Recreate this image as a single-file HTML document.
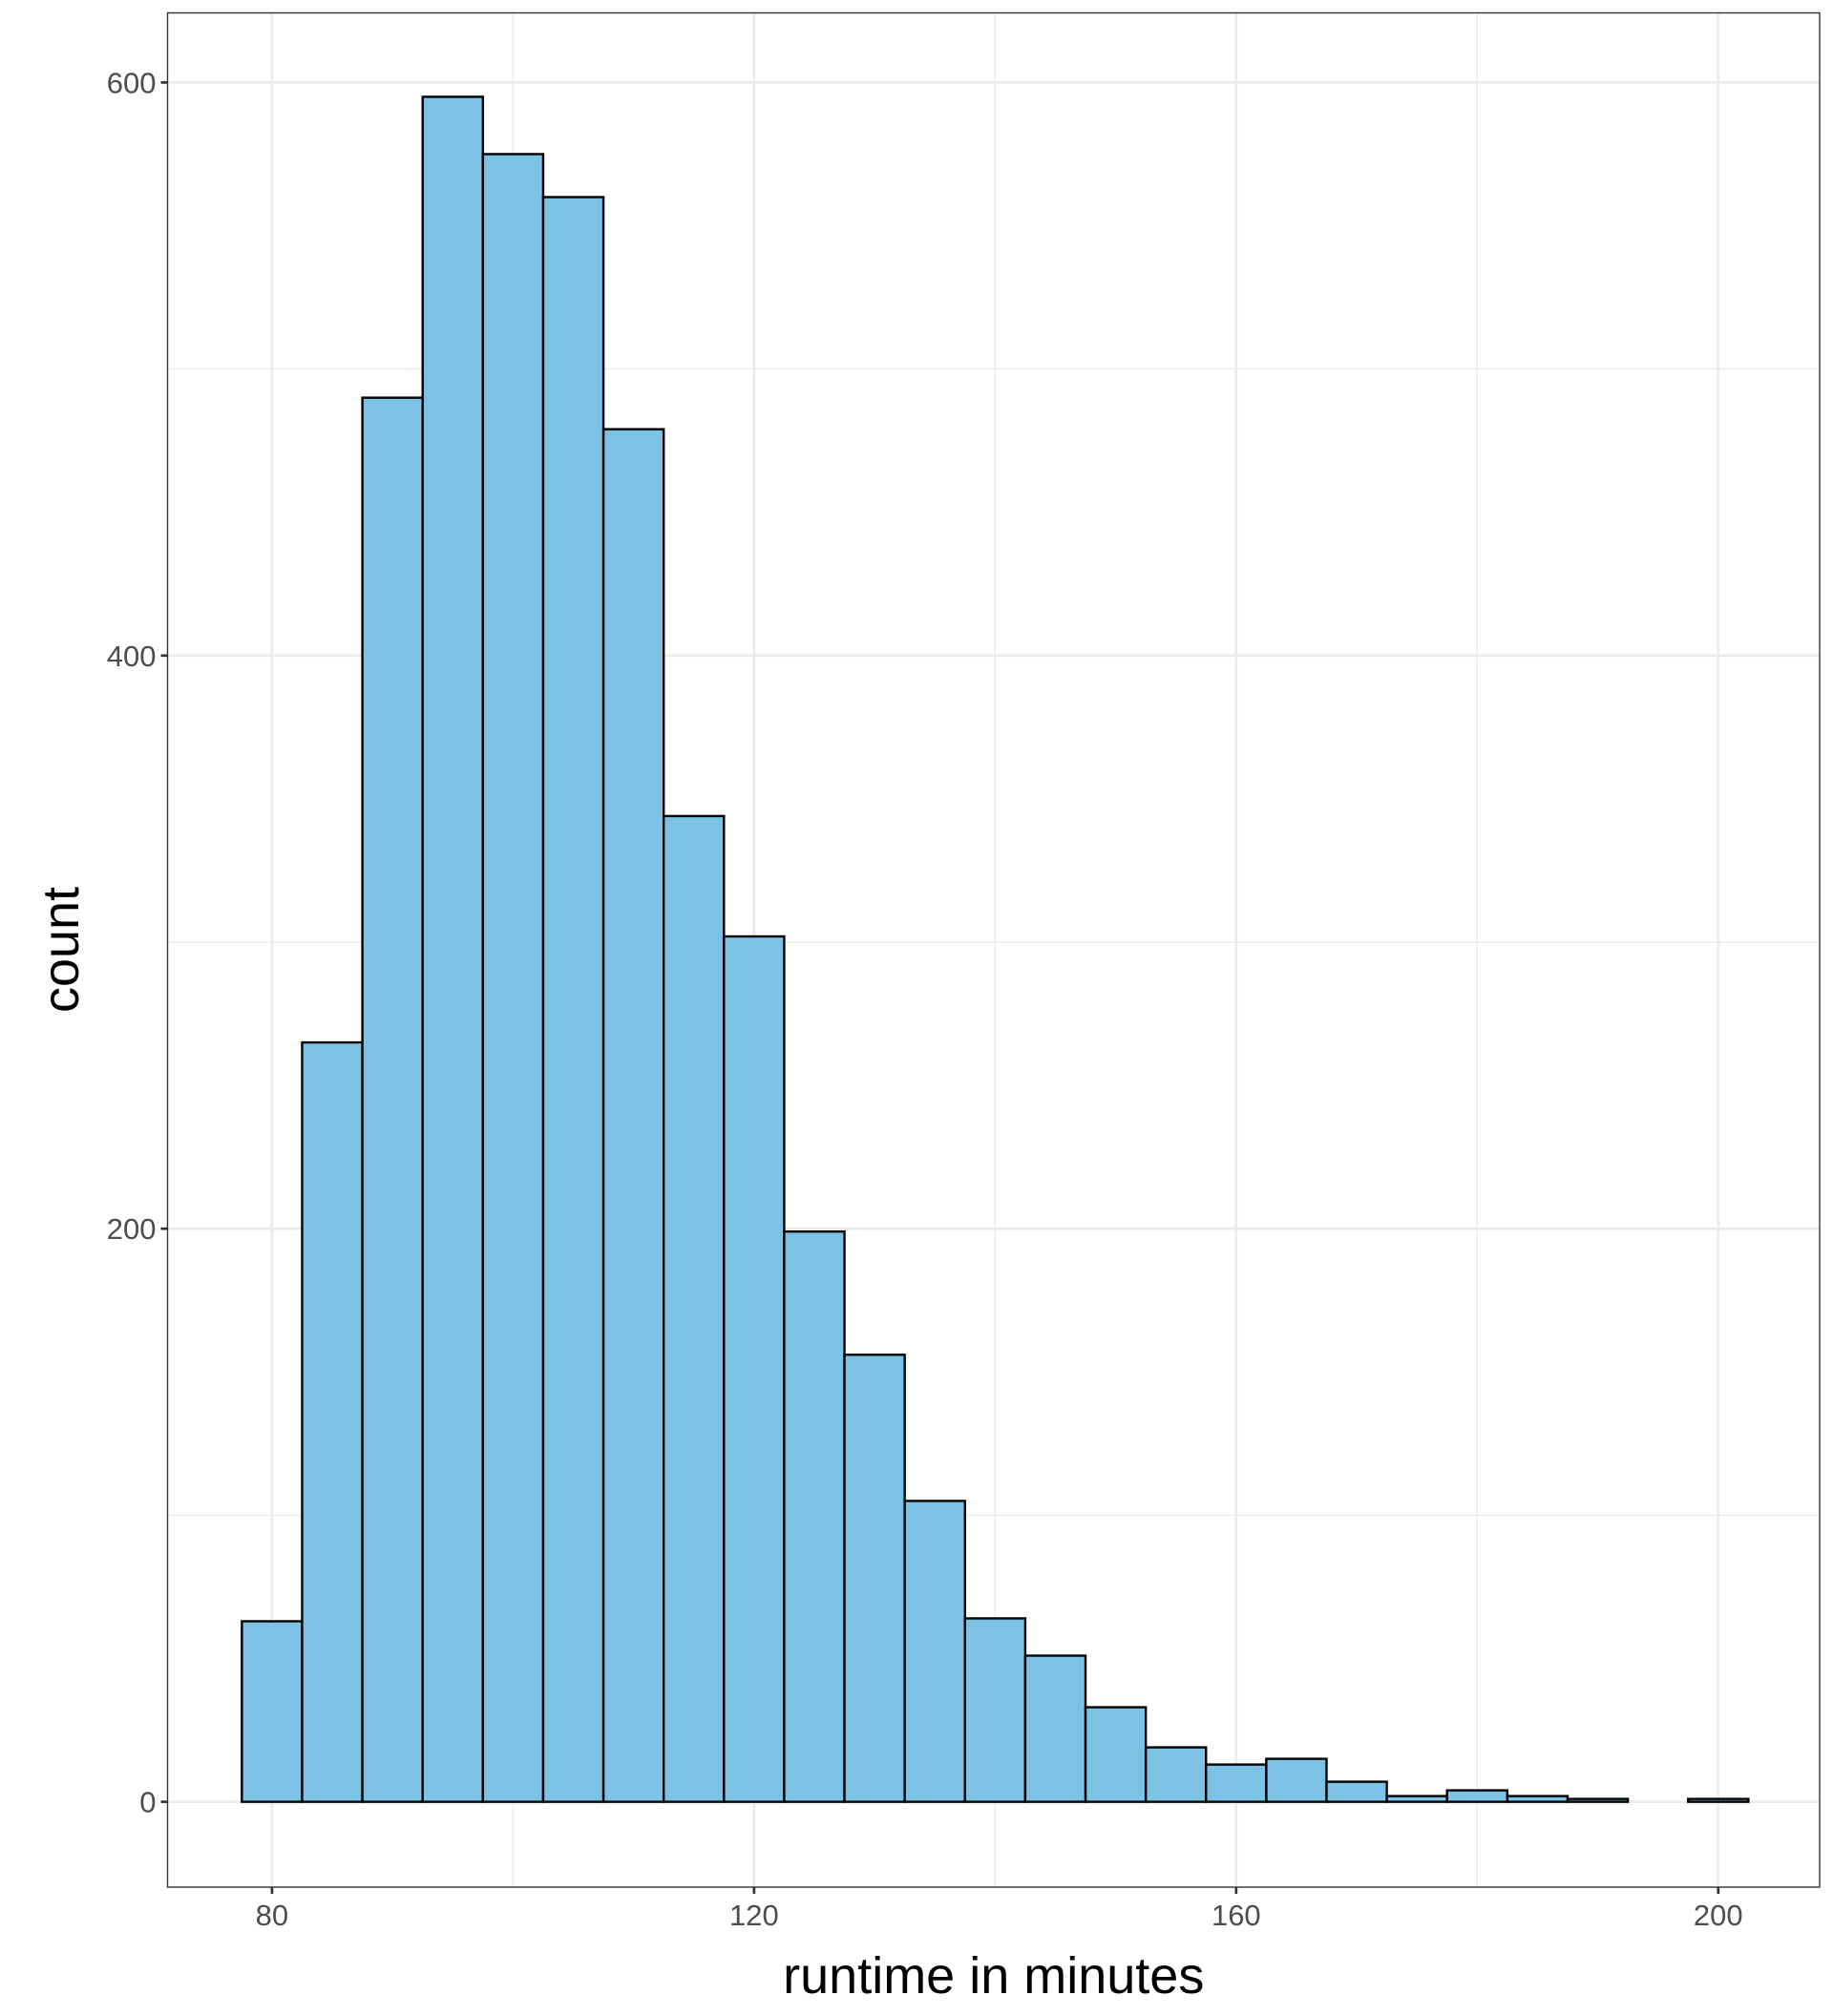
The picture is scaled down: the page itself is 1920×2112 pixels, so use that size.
<!DOCTYPE html>
<html><head><meta charset="utf-8"><style>
html,body{margin:0;padding:0;background:#fff;}
svg{display:block;font-family:"Liberation Sans",Arial,sans-serif;}
</style></head><body>
<svg id="chart" width="1920" height="2112" viewBox="0 0 1920 2112" xmlns="http://www.w3.org/2000/svg">
<rect x="0" y="0" width="1920" height="2112" fill="#fff"/>
<g id="grid"></g>
<g id="bars"></g>
<rect x="175.5" y="13.5" width="1730.5" height="1963.5" fill="none" stroke="#333" stroke-width="1.4"/>
<g id="axes"></g>
<text x="770" y="0" transform="translate(0,0)" id="xtitle" font-size="54" text-anchor="middle" fill="#000">runtime in minutes</text>
<text font-size="54" text-anchor="middle" fill="#000" transform="translate(82,995) rotate(-90)">count</text>
</svg>
<script>
const binCenters = [80,85,90,95,100,105,110,115,120,125,130,135,140,145,150,155,160,165,170,175,180,185,190,195,200];
const counts = [63,265,490,595,575,560,479,344,302,199,156,105,64,51,33,19,13,15,7,2,4,2,1,0,1];
const xTicks = [80,120,160,200];
const xMinor = [100,140,180];
const yTicks = [0,200,400,600];
const yMinor = [100,300,500];
const binWidth = 5;

const NS = "http://www.w3.org/2000/svg";
const x = v => 284.9 + (v - 80) * (1799.8 - 284.9) / 120;
const y = v => 1887.6 - v * (1887.6 - 86.4) / 600;
const L = 175.5, R = 1906, T = 13.5, B = 1977;

function mk(tag, attrs, parent){
  const e = document.createElementNS(NS, tag);
  for (const k in attrs) e.setAttribute(k, attrs[k]);
  parent.appendChild(e);
  return e;
}
const grid = document.getElementById('grid');
const bars = document.getElementById('bars');
const axes = document.getElementById('axes');

yMinor.forEach(v => {
  const l = mk('line', {x1:L, x2:R, y1:y(v), y2:y(v), stroke:'#ebebeb', 'stroke-width':1.4}, grid);
  
  
});
xMinor.forEach(v => {
  const l = mk('line', {x1:x(v), x2:x(v), y1:T, y2:B, stroke:'#ebebeb', 'stroke-width':1.4}, grid);
  
  
});
yTicks.forEach(v => {
  const l = mk('line', {x1:L, x2:R, y1:y(v), y2:y(v), stroke:'#ebebeb', 'stroke-width':2.7}, grid);
  
  
  const t = mk('line', {x1:L-7, x2:L, y1:y(v), y2:y(v), stroke:'#333', 'stroke-width':2.7}, axes);
  
  
  const tx = mk('text', {x:L-12, y:y(v)+11, 'font-size':31, 'text-anchor':'end', fill:'#4d4d4d'}, axes);
  tx.textContent = v;
  
  
});
xTicks.forEach(v => {
  const l = mk('line', {x1:x(v), x2:x(v), y1:T, y2:B, stroke:'#ebebeb', 'stroke-width':2.7}, grid);
  
  
  const t = mk('line', {x1:x(v), x2:x(v), y1:B, y2:B+7, stroke:'#333', 'stroke-width':2.7}, axes);
  
  
  const tx = mk('text', {x:x(v), y:B+40, 'font-size':31, 'text-anchor':'middle', fill:'#4d4d4d'}, axes);
  tx.textContent = v;
  
  
});
binCenters.forEach((c, i) => {
  const x0 = x(c - binWidth/2), x1 = x(c + binWidth/2);
  const y0 = y(counts[i]), y1 = y(0);
  const r = mk('rect', {x:x0, y:y0, width:x1-x0, height:Math.max(0,y1-y0), fill:'#7bc2e4', stroke:'#000', 'stroke-width':2.4}, bars);
  
  
});
document.getElementById('xtitle').setAttribute('y', 2088);
document.getElementById('xtitle').setAttribute('x', (L+R)/2);
</script>
</body></html>
